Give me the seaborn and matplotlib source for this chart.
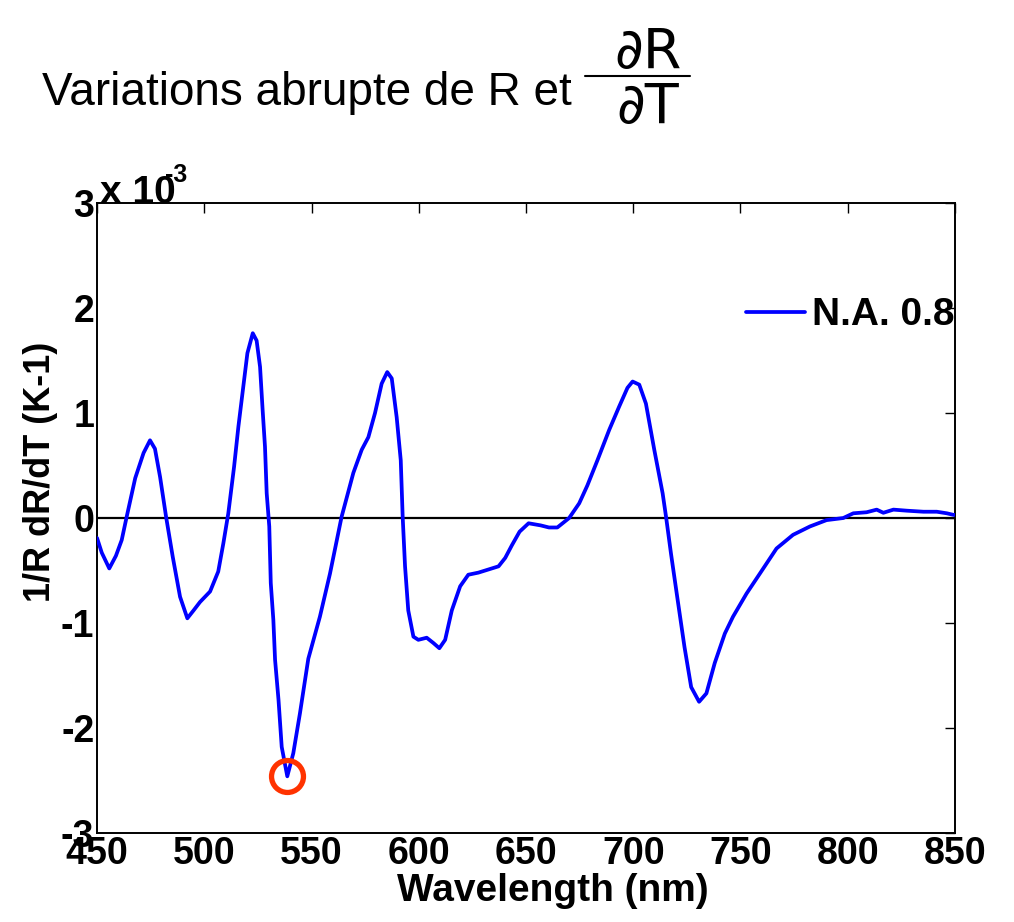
import matplotlib
matplotlib.use("Agg")
import matplotlib.pyplot as plt
import seaborn as sns
import pandas as pd

# wavelength (nm) and 1/R dR/dT in units of 1e-3 K-1
wavelength = [450.0, 452.2, 455.7, 458.8, 461.5, 463.8, 467.8, 471.7, 474.7, 477.0,
              479.4, 482.2, 485.3, 488.7, 492.1, 495.0, 498.0, 502.7, 506.5, 508.9,
              511.2, 513.9, 515.9, 518.0, 520.1, 522.6, 524.4, 526.0, 527.2, 528.3,
              529.1, 530.3, 531.0, 532.2, 533.0, 534.6, 536.1, 538.7, 541.5, 544.6,
              548.5, 553.9, 558.6, 564.0, 569.5, 573.4, 576.5, 579.6, 582.7, 585.3,
              587.4, 589.7, 591.6, 592.5, 593.6, 595.1, 597.5, 599.8, 603.7, 606.8,
              609.6, 612.3, 615.4, 619.3, 623.1, 627.8, 632.5, 637.2, 640.3, 643.4,
              647.0, 651.2, 656.8, 660.7, 664.6, 670.1, 674.8, 678.6, 683.3, 688.8,
              693.4, 697.3, 699.7, 702.8, 705.9, 709.8, 713.7, 715.3, 717.6, 720.7,
              723.9, 727.0, 730.7, 734.1, 738.0, 742.7, 746.5, 752.8, 759.0, 766.8,
              774.5, 782.4, 790.1, 797.9, 802.6, 808.8, 813.5, 816.6, 821.3, 827.5,
              835.3, 841.5, 846.2, 849.3, 850.0]
dRdT = [-0.19, -0.33, -0.48, -0.36, -0.21, 0.01, 0.38, 0.62, 0.74, 0.66,
        0.39, 0.01, -0.37, -0.75, -0.955, -0.88, -0.80, -0.70, -0.51, -0.24,
        0.045, 0.49, 0.87, 1.22, 1.57, 1.76, 1.69, 1.44, 1.03, 0.68,
        0.235, -0.08, -0.62, -0.97, -1.35, -1.73, -2.18, -2.46, -2.24, -1.86,
        -1.34, -0.94, -0.53, 0.01, 0.43, 0.65, 0.77, 1.00, 1.28, 1.39,
        1.33, 0.96, 0.55, 0.01, -0.46, -0.88, -1.13, -1.16, -1.14, -1.19,
        -1.24, -1.16, -0.88, -0.65, -0.54, -0.52, -0.49, -0.46, -0.38, -0.26,
        -0.13, -0.05, -0.07, -0.09, -0.09, 0.00, 0.14, 0.31, 0.55, 0.84,
        1.06, 1.24, 1.30, 1.27, 1.09, 0.65, 0.235, 0.01, -0.34, -0.78,
        -1.23, -1.61, -1.75, -1.67, -1.38, -1.10, -0.94, -0.72, -0.53, -0.29,
        -0.16, -0.08, -0.02, 0.00, 0.045, 0.055, 0.08, 0.05, 0.08, 0.07,
        0.06, 0.06, 0.045, 0.03, 0.03]
min_point = (538.7, -2.46)
xticks = [450, 500, 550, 600, 650, 700, 750, 800, 850]
yticks = [-3, -2, -1, 0, 1, 2, 3]

sns.set_style("white")
plt.rcParams['font.family'] = ['Liberation Sans', 'DejaVu Sans']
plt.rcParams['text.color'] = 'black'
plt.rcParams['axes.labelcolor'] = 'black'
plt.rcParams['xtick.color'] = 'black'
plt.rcParams['ytick.color'] = 'black'

df = pd.DataFrame({'Wavelength': wavelength, 'dRdT': dRdT})

fig = plt.figure(figsize=(10.14, 9.22), dpi=100)
ax = fig.add_axes([0.0957, 0.0965, 0.8461, 0.6833])

ax.axhline(0, color='black', lw=1.6, zorder=1)
sns.lineplot(data=df, x='Wavelength', y='dRdT', ax=ax, color='#0000ff',
             lw=2.7, label='N.A. 0.8', zorder=3)
ax.plot(*min_point, 'o', ms=23, mfc='none', mec='#ff3300', mew=3.8, zorder=4)

ax.set_xlim(450, 850)
ax.set_ylim(-3, 3)
ax.set_xticks(xticks)
ax.set_yticks(yticks)
ax.set_xticklabels([str(t) for t in xticks], fontsize=27, fontweight='bold')
ax.set_yticklabels([str(t) for t in yticks], fontsize=27, fontweight='bold')
ax.tick_params(direction='in', length=7, width=1, top=True, right=True, pad=2)
for s in ax.spines.values():
    s.set_color('black')
    s.set_linewidth(1.4)

ax.set_xlabel('Wavelength (nm)', fontsize=28, fontweight='bold')
ax.xaxis.set_label_coords(0.531, -0.063)
ax.set_ylabel('1/R dR/dT (K-1)', fontsize=26, fontweight='bold', va='center')
ax.yaxis.set_label_coords(-0.066, 0.573)

leg = ax.legend(loc='center right', bbox_to_anchor=(1.0, 0.822), frameon=False,
                borderpad=0, borderaxespad=0, handlelength=1.5, handletextpad=0.2,
                prop={'size': 28, 'weight': 'bold'})

# exponent label like MATLAB
fig.text(100 / 1014, 1 - 203 / 922, 'x 10', fontsize=28, fontweight='bold',
         ha='left', va='baseline')
fig.text(165 / 1014, 1 - 182 / 922, '-3', fontsize=18, fontweight='bold',
         ha='left', va='baseline')

# title with partial derivative fraction
fig.text(42 / 1014, 1 - 105 / 922, 'Variations abrupte de R et', fontsize=33,
         ha='left', va='baseline')
fig.text(648 / 1014, 1 - 68 / 922, '\u2202R', fontsize=40, ha='center', va='baseline',
         family=['DejaVu Sans'])
fig.text(648 / 1014, 1 - 123 / 922, '\u2202T', fontsize=40, ha='center', va='baseline',
         family=['DejaVu Sans'])
fig.add_artist(plt.Line2D([585 / 1014, 690 / 1014], [1 - 76 / 922, 1 - 76 / 922],
                          color='black', lw=1.5))

fig.savefig('out.png', dpi=100, facecolor='white')
